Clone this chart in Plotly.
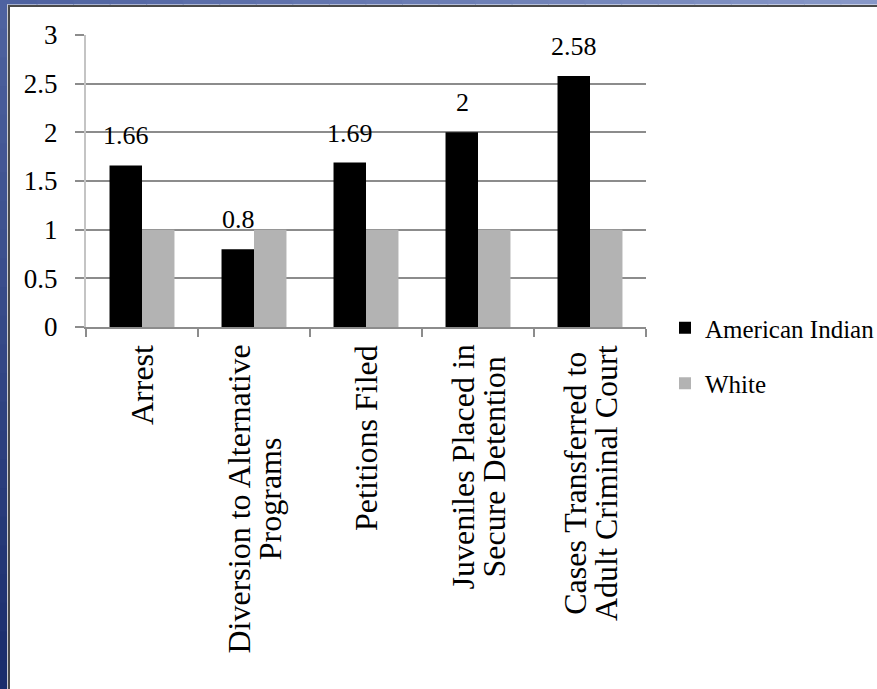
import plotly.graph_objects as go

categories = ["Arrest", "Diversion to Alternative Programs", "Petitions Filed",
              "Juveniles Placed in Secure Detention", "Cases Transferred to Adult Criminal Court"]
category_lines = [["Arrest"], ["Diversion to Alternative", "Programs"], ["Petitions Filed"],
                  ["Juveniles Placed in", "Secure Detention"],
                  ["Cases Transferred to", "Adult Criminal Court"]]
american_indian = [1.66, 0.8, 1.69, 2.0, 2.58]
american_indian_labels = ["1.66", "0.8", "1.69", "2", "2.58"]
white = [1, 1, 1, 1, 1]
y_ticks = [0, 0.5, 1, 1.5, 2, 2.5, 3]
y_tick_text = ["0", "0.5", "1", "1.5", "2", "2.5", "3"]

W, H = 877, 689
L, R, T, B = 86, 231, 35, 362
PW, PH = W - L - R, H - T - B
FONT = "Liberation Serif"
GRID = "#8c8c8c"


def px(xp):
    return (xp - L) / PW


def py(yp):
    return 1 - (yp - T) / PH


fig = go.Figure()
fig.add_trace(go.Bar(x=categories, y=american_indian, name="American Indian",
                     marker=dict(color="#000000", line=dict(width=0)), legendgroup="a"))
fig.add_trace(go.Bar(x=categories, y=white, name="White",
                     marker=dict(color="#b3b3b3", line=dict(width=0)), legendgroup="b"))

annotations = []
for c, v, t in zip(categories, american_indian, american_indian_labels):
    annotations.append(dict(x=c, y=v, xref="x", yref="y", text=t, showarrow=False,
                            xanchor="center", yanchor="bottom", xshift=-16, yshift=13,
                            font=dict(family=FONT, size=26, color="#000")))
for c, lines in zip(categories, category_lines):
    txt = "<br>".join("<span style='font-size:32px'>%s</span>" % ln for ln in lines)
    annotations.append(dict(x=c, y=0, xref="x", yref="y", text=txt, showarrow=False,
                            textangle=-90, align="center", xanchor="center", yanchor="top",
                            yshift=-16, font=dict(family=FONT, size=24, color="#000")))

# slide frame (blue border with grey inner rule)
shapes = []
n = 24
def lerp(c1, c2, f):
    return "rgb(%d,%d,%d)" % tuple(round(a + (b - a) * f) for a, b in zip(c1, c2))

for i in range(n):
    y0p = H * i / n
    y1p = H * (i + 1) / n + 1
    shapes.append(dict(type="rect", xref="paper", yref="paper", x0=px(0), x1=px(7),
                       y0=py(y1p), y1=py(y0p), line=dict(width=0),
                       fillcolor=lerp((78, 98, 160), (26, 45, 108), i / (n - 1))))
for i in range(n):
    x0p = W * i / n
    x1p = W * (i + 1) / n + 1
    shapes.append(dict(type="rect", xref="paper", yref="paper", x0=px(x0p), x1=px(x1p),
                       y0=py(4.5), y1=py(0), line=dict(width=0),
                       fillcolor=lerp((78, 98, 160), (136, 152, 200), i / (n - 1))))
# light rule and dark rule
shapes.append(dict(type="rect", xref="paper", yref="paper", x0=px(7), x1=px(8),
                   y0=py(H), y1=py(4.5), line=dict(width=0), fillcolor="#c8cad2"))
shapes.append(dict(type="rect", xref="paper", yref="paper", x0=px(8), x1=px(10),
                   y0=py(H), y1=py(5), line=dict(width=0), fillcolor="#4a4a4a"))
shapes.append(dict(type="rect", xref="paper", yref="paper", x0=px(8), x1=px(W),
                   y0=py(7), y1=py(5), line=dict(width=0), fillcolor="#4a4a4a"))

fig.update_layout(
    width=W, height=H,
    margin=dict(l=L, r=R, t=T, b=B, pad=0, autoexpand=False),
    paper_bgcolor="white", plot_bgcolor="white",
    barmode="group", bargap=0.42, bargroupgap=0,
    font=dict(family=FONT, size=25, color="#000"),
    showlegend=True,
    legend=dict(x=px(665), xanchor="left", y=py(305), yanchor="top",
                traceorder="grouped", tracegroupgap=20, itemwidth=30,
                font=dict(family=FONT, size=25, color="#000"),
                bgcolor="rgba(0,0,0,0)"),
    annotations=annotations,
    shapes=shapes,
)
fig.update_xaxes(showticklabels=False, showline=True, linecolor=GRID, linewidth=2,
                 ticks="outside", tickson="boundaries", ticklen=8, tickcolor=GRID,
                 tickwidth=2, showgrid=False, zeroline=False, fixedrange=True)
fig.update_yaxes(range=[0, 3], tickvals=y_ticks, ticktext=y_tick_text,
                 showgrid=True, gridcolor=GRID, gridwidth=2,
                 ticks="outside", ticklen=9, tickcolor=GRID, tickwidth=2,
                 showline=True, linecolor="#c4c4c4", linewidth=2, zeroline=False,
                 ticklabelstandoff=12, tickfont=dict(family=FONT, size=27, color="#000"),
                 fixedrange=True)

fig.write_html("out.html")
